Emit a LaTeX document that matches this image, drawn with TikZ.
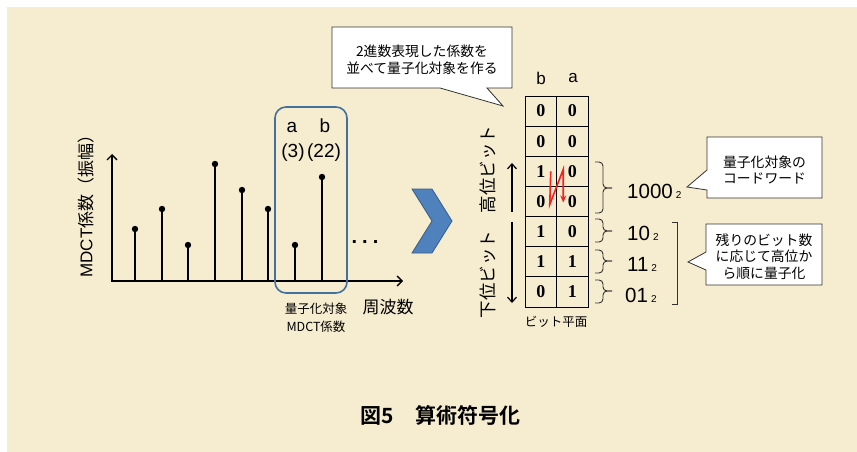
\documentclass[tikz,border=0pt]{standalone}
\usepackage{fontspec}
\setmainfont{Liberation Sans}
\newfontfamily\cjk{Noto Sans CJK JP}[BoldFont={* Bold}]
\newfontfamily\serifb{Liberation Serif}
\usetikzlibrary{arrows.meta,calc}
\definecolor{cream}{RGB}{246,236,208}
\definecolor{boxblue}{RGB}{65,113,156}
\definecolor{chevfill}{RGB}{79,129,189}
\definecolor{chevline}{RGB}{56,93,138}
\definecolor{zred}{RGB}{250,30,30}
\newcommand{\fsz}[2]{\fontsize{#1}{#2}\selectfont}
\newcommand{\rbr}[4]{%
  \draw[brc] (#1,#2) -- (#1+8,#2) -- (#1+8,#3) -- (#1+17,#3);
  \draw[brc] (#1,#4) -- (#1+8,#4) -- (#1+8,#3) -- (#1+17,#3);}
\tikzset{
  axis/.style={line width=1.4pt,-{Straight Barb[length=5pt,width=10pt]}},
  stem/.style={line width=1.4pt},
  cell/.style={draw=black,line width=0.8pt,minimum width=31.5pt,minimum height=30.14pt,inner sep=0pt,font=\serifb\bfseries\fsz{18}{18}},
  brc/.style={line width=0.9pt,draw={rgb,255:red,50;green,50;blue,50},rounded corners=4pt},
  callout/.style={fill=white,draw=black!80,line width=0.8pt},
  ctext/.style={align=center,inner sep=0pt,font=\cjk\fsz{13.8}{16.5}},
  bitnum/.style={anchor=base west,inner sep=0pt},
}
\begin{document}
\begin{tikzpicture}[x=1pt,y=-1pt]
\fill[white] (0,0) rectangle (857,452);
\fill[cream] (7,7) rectangle (857,452);
\useasboundingbox (0,0) rectangle (857,452);

% axes
\coordinate (O) at (111,281);
\coordinate (ytop) at (112,154);
\coordinate (xend) at (403,281);
\draw[axis] (112,281) -- (ytop);
\draw[axis] (O) -- (xend);
\foreach \x/\y in {135/229,162/209,188/245,215/164,242/190,268/209,295/245,322/177}{
  \draw[stem] (\x,281) -- (\x,\y);
  \fill (\x,\y) circle (3.2pt);
}
\node[inner sep=0pt,font=\bfseries\fsz{20}{20}] (dots) at (365,242) {.\hspace{5pt}.\hspace{5pt}.};

% y label
\node[rotate=90,inner sep=0pt] (ylab) at (86,202) {\fsz{17}{17}MDCT\cjk 係数（振幅）};

% blue box
\node[draw=boxblue,line width=1.6pt,rounded corners=11pt,minimum width=72pt,minimum height=186pt,inner sep=0pt] (qbox) at (311,200) {};
\node[anchor=base,inner sep=0pt,font=\fsz{19}{19}] (la) at (292,132) {a};
\node[anchor=base,inner sep=0pt,font=\fsz{19}{19}] (lb) at (325,132) {b};
\node[anchor=base,inner sep=0pt,font=\fsz{19}{19}] (l3) at (293,157) {(3)};
\node[anchor=base,inner sep=0pt,font=\fsz{19}{19}] (l22) at (324,157) {(22)};
\node[align=center,inner sep=0pt,font=\cjk\fsz{12.5}{18}] (qlab) at (316,318) {量子化対象\\MDCT係数};
\node[inner sep=0pt,font=\cjk\fsz{17}{17}] (freq) at (388,307) {周波数};

% chevron
\filldraw[fill=chevfill,draw=chevline,line width=0.8pt] (412,189) -- (432,189) -- (452,221) -- (432,253) -- (412,253) -- (432,221) -- cycle;

% table
\node[inner sep=0pt,font=\fsz{17}{17}] (hb) at (541,78) {b};
\node[inner sep=0pt,font=\fsz{17}{17}] (ha) at (573,78) {a};
\foreach \b/\a [count=\i] in {0/0,0/0,1/0,0/0,1/0,1/1,0/1}{
  \node[cell] (b\i) at (540.75,96+30.14*\i-15.07) {\b};
  \node[cell] (a\i) at (572.25,96+30.14*\i-15.07) {\a};
}
\node[inner sep=0pt,font=\cjk\fsz{12.5}{12.5}] (bplane) at (556,322) {ビット平面};

% red zigzag
\coordinate (z1) at ($(b3.center)+(10,0)$);
\coordinate (z2) at ($(b4.center)+(9,3)$);
\coordinate (z3) at ($(a3.center)+(-9,-2)$);
\coordinate (z4) at ($(a4.center)+(-9,1)$);
\draw[zred,line width=1.6pt,-{Stealth[length=7pt,width=6pt]}] (z1) -- (z2) -- (z3) -- (z4);

% side arrows and vertical label
\coordinate (u1) at (512,212); \coordinate (u2) at (512,163);
\coordinate (d1) at (512,222); \coordinate (d2) at (512,303);
\draw[line width=1.2pt,-{Straight Barb[length=5pt,width=9pt]}] (u1) -- (u2);
\draw[line width=1.2pt,-{Straight Barb[length=5pt,width=9pt]}] (d1) -- (d2);
\node[rotate=90,inner sep=0pt,font=\cjk\fsz{17.5}{17.5}] (vlab) at (488,222) {下位ビット　高位ビット};

% braces
\rbr{595}{162}{188}{213}
\rbr{595}{219}{231}{242}
\rbr{595}{250}{261}{273}
\rbr{595}{280}{291}{303}
\node[bitnum] (c1) at (627,198) {\fsz{20.5}{20.5}1000\hspace{3pt}\fsz{10}{10}2};
\node[bitnum] (c2) at (627,240) {\fsz{20.5}{20.5}10\hspace{3pt}\fsz{10}{10}2};
\node[bitnum] (c3) at (627,271) {\fsz{20.5}{20.5}11\hspace{3pt}\fsz{10}{10}2};
\node[bitnum] (c4) at (625,302) {\fsz{20.5}{20.5}01\hspace{3pt}\fsz{10}{10}2};
\draw[line width=0.9pt,draw={rgb,255:red,50;green,50;blue,50}] (672,222) -- (677,222) -- (677,304) -- (672,304);

% callouts
\filldraw[callout] (332,27) -- (512,27) -- (512,88) -- (487,88) -- (503,106) -- (440,88) -- (332,88) -- cycle;
\node[ctext] (t1) at (422,60) {2進数表現した係数を\\並べて量子化対象を作る};
\filldraw[callout] (707,137) -- (822,137) -- (822,198) -- (707,198) -- (707,190) -- (687,187) -- (707,170) -- cycle;
\node[ctext] (t2) at (764.5,170) {量子化対象の\\コードワード};
\filldraw[callout] (706,224) -- (822,224) -- (822,285) -- (706,285) -- (706,270) -- (688,262) -- (706,252) -- cycle;
\node[ctext] (t3) at (764,256.5) {残りのビット数\\に応じて高位か\\ら順に量子化};

% title
\node[inner sep=0pt,font=\cjk\bfseries\fsz{21}{21}] (title) at (440.5,415) {図5　算術符号化};
\end{tikzpicture}
\end{document}
